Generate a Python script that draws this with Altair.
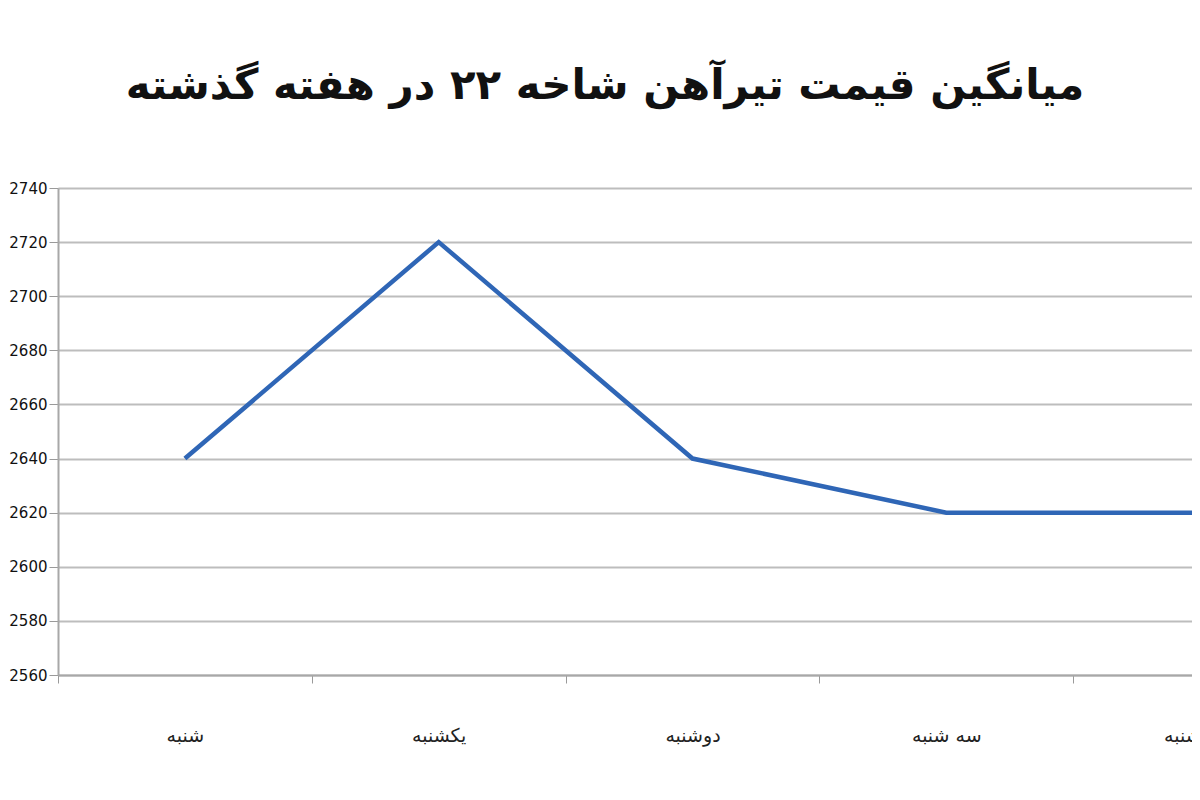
import altair as alt
import pandas as pd

days = ["شنبه", "یکشنبه", "دوشنبه", "سه شنبه", "چهارشنبه"]
prices = [2640, 2720, 2640, 2620, 2620]
y_ticks = [2560, 2580, 2600, 2620, 2640, 2660, 2680, 2700, 2720, 2740]
title_text = "میانگین قیمت تیرآهن شاخه ۲۲ در هفته گذشته"

df = pd.DataFrame({"day": days, "price": prices})

PAD_L = 50
PLOT_W = 1184 - PAD_L
BAND = (1200 - 8 - PAD_L) / 4.5

chart = alt.Chart(df).mark_line(color="#2f66b6", strokeWidth=4.5).encode(
    x=alt.X("day:N", sort=days, title=None,
            scale=alt.Scale(type="band", domain=days, paddingInner=0, paddingOuter=0,
                            range=[0, round(BAND * 5)]),
            axis=alt.Axis(labelAngle=0, labelFontSize=19, labelColor="#222222",
                          labelPadding=43, tickBand="extent", tickSize=8,
                          tickColor="#9a9a9a", domainColor="#a8a8a8", domainWidth=2,
                          grid=False, labelFont="DejaVu Sans")),
    y=alt.Y("price:Q", title=None,
            scale=alt.Scale(domain=[2560, 2740], nice=False, zero=False),
            axis=alt.Axis(values=y_ticks, labelFontSize=15, labelColor="#111111",
                          format="d", tickSize=9, labelPadding=2,
                          tickColor="#9a9a9a", domainColor="#a8a8a8", domainWidth=2,
                          gridColor="#bdbdbd", gridWidth=2, labelFont="DejaVu Sans")),
).properties(
    width=PLOT_W,
    height=487,
    autosize=alt.AutoSizeParams(type="none"),
    padding={"left": PAD_L, "top": 180, "right": 0, "bottom": 110},
    title=alt.TitleParams(title_text, fontSize=42, fontWeight="bold", font="DejaVu Sans",
                          color="#111111", anchor="middle", dx=-20, offset=73),
).configure_view(stroke=None).configure(background="white")

chart.save("out.html", embed_options={"renderer": "svg", "actions": False})
